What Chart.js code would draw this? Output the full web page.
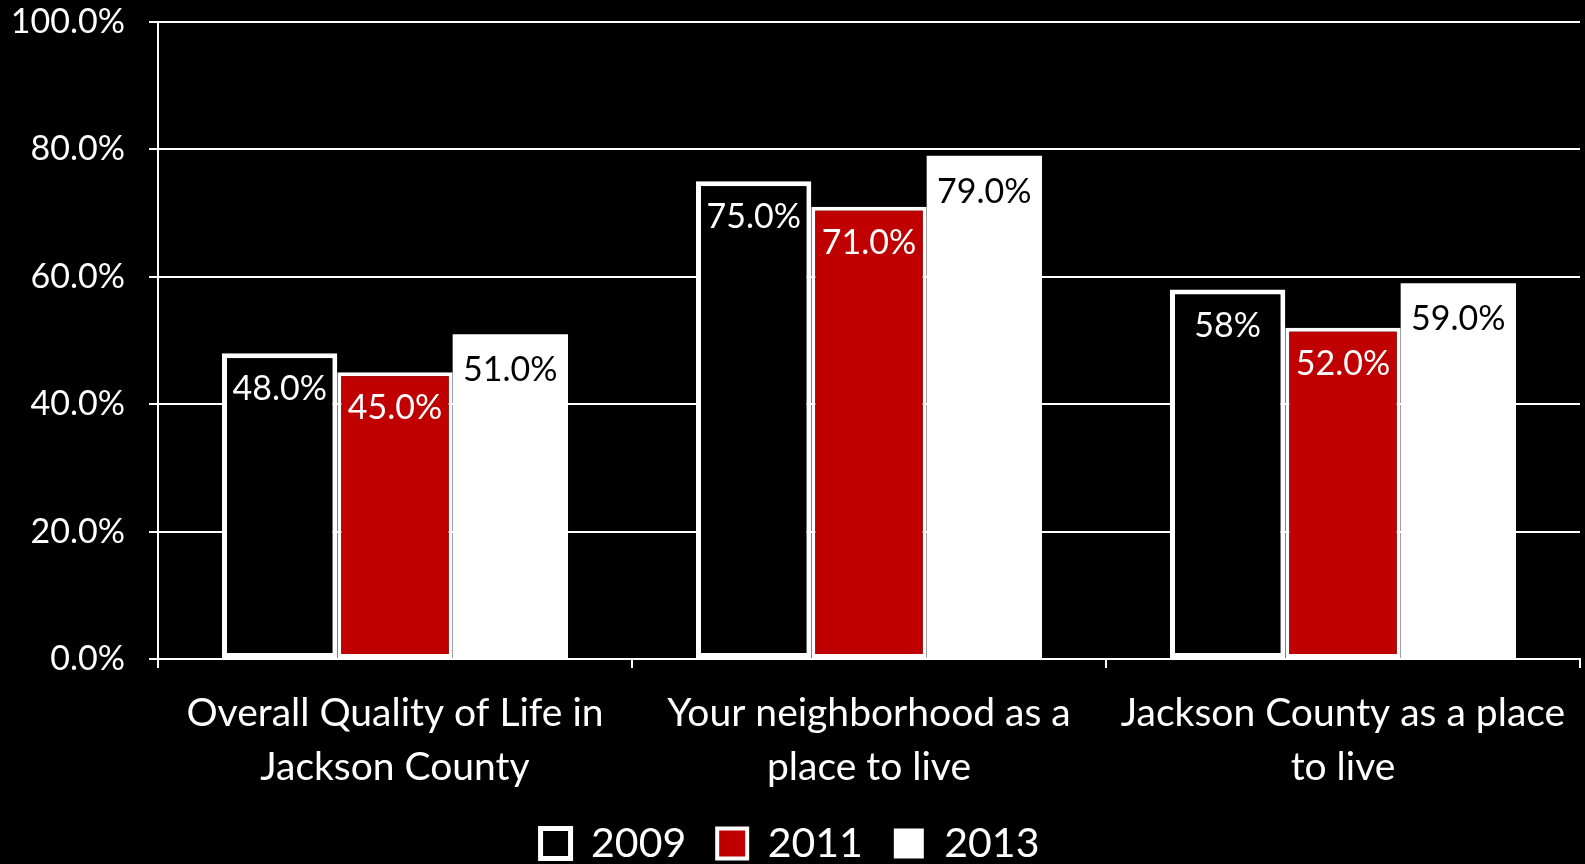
<!DOCTYPE html>
<html>
<head>
<meta charset="utf-8">
<title>Quality of life ratings</title>
<script src="https://cdn.jsdelivr.net/npm/chart.js@4.4.1/dist/chart.umd.min.js"></script>
<style>
  html, body { margin: 0; padding: 0; background: #000; overflow: hidden; }
  #wrap { width: 1585px; height: 864px; }
</style>
</head>
<body>
<div id="wrap"><canvas id="chart" width="1585" height="864"></canvas></div>
<script>
  'use strict';

  // ========================
  // Data
  // ========================
  const categories = [
    ['Overall Quality of Life in', 'Jackson County'],
    ['Your neighborhood as a', 'place to live'],
    ['Jackson County as a place', 'to live']
  ];
  const seriesNames = ['2009', '2011', '2013'];
  const values2009 = [48, 75, 58];
  const values2011 = [45, 71, 52];
  const values2013 = [51, 79, 59];
  const labels2009 = ['48.0%', '75.0%', '58%'];
  const labels2011 = ['45.0%', '71.0%', '52.0%'];
  const labels2013 = ['51.0%', '79.0%', '59.0%'];
  const yTicks = [0, 20, 40, 60, 80, 100];

  const FONT = 'Lato, "Open Sans", sans-serif';
  const RED = '#C00000';

  // value labels drawn inside the top of each bar
  const barLabels = {
    id: 'barLabels',
    afterDatasetsDraw(chart) {
      const ctx = chart.ctx;
      ctx.save();
      ctx.font = '34px ' + FONT;
      ctx.textAlign = 'center';
      ctx.textBaseline = 'middle';
      chart.data.datasets.forEach((ds, i) => {
        const meta = chart.getDatasetMeta(i);
        meta.data.forEach((bar, j) => {
          ctx.fillStyle = ds.labelColor;
          ctx.fillText(ds.valueLabels[j], bar.x, bar.y + 36);
        });
      });
      ctx.restore();
    }
  };

  new Chart(document.getElementById('chart'), {
    type: 'bar',
    data: {
      labels: categories,
      datasets: [
        { label: seriesNames[0], data: values2009, valueLabels: labels2009, labelColor: '#fff',
          backgroundColor: '#000', borderColor: '#fff', borderWidth: 5, borderSkipped: false },
        { label: seriesNames[1], data: values2011, valueLabels: labels2011, labelColor: '#fff',
          backgroundColor: RED, borderColor: '#fff', borderWidth: 4, borderSkipped: false },
        { label: seriesNames[2], data: values2013, valueLabels: labels2013, labelColor: '#000',
          backgroundColor: '#fff', borderColor: '#fff', borderWidth: 0 }
      ]
    },
    options: {
      responsive: false,
      animation: false,
      layout: { padding: { top: 0, right: 5, bottom: 0, left: 0 } },
      datasets: { bar: { categoryPercentage: 0.73, barPercentage: 1 } },
      plugins: {
        tooltip: { enabled: false },
        legend: {
          position: 'bottom',
          maxHeight: 72, // clamp: wide item padding shouldn't eat vertical room
          labels: {
            color: '#fff',
            font: { family: FONT, size: 41 },
            boxWidth: 30,
            boxHeight: 30,
            padding: 31
          }
        }
      },
      scales: {
        x: {
          grid: { drawOnChartArea: false, drawTicks: true, tickLength: 9, color: '#fff', lineWidth: 2 },
          border: { color: '#fff', width: 2 },
          ticks: {
            color: '#fff',
            font: { family: FONT, size: 39, lineHeight: 1.37 },
            padding: 19,
            maxRotation: 0,
            autoSkip: false
          },
          afterFit(scale) { scale.height = 133; }
        },
        y: {
          min: 0,
          max: 100,
          afterBuildTicks(scale) { scale.ticks = yTicks.map(v => ({ value: v })); },
          grid: { color: '#fff', lineWidth: 2, tickLength: 9 },
          border: { color: '#fff', width: 2 },
          ticks: {
            color: '#fff',
            font: { family: FONT, size: 34 },
            padding: 24,
            callback: v => v.toFixed(1) + '%'
          },
          afterFit(scale) {
            scale.width = 158;
            // tick padding also pads the top in v4; pin it
            scale.paddingTop = 22;
            scale.paddingBottom = 20;
          }
        }
      }
    },
    plugins: [barLabels]
  });
</script>
</body>
</html>
